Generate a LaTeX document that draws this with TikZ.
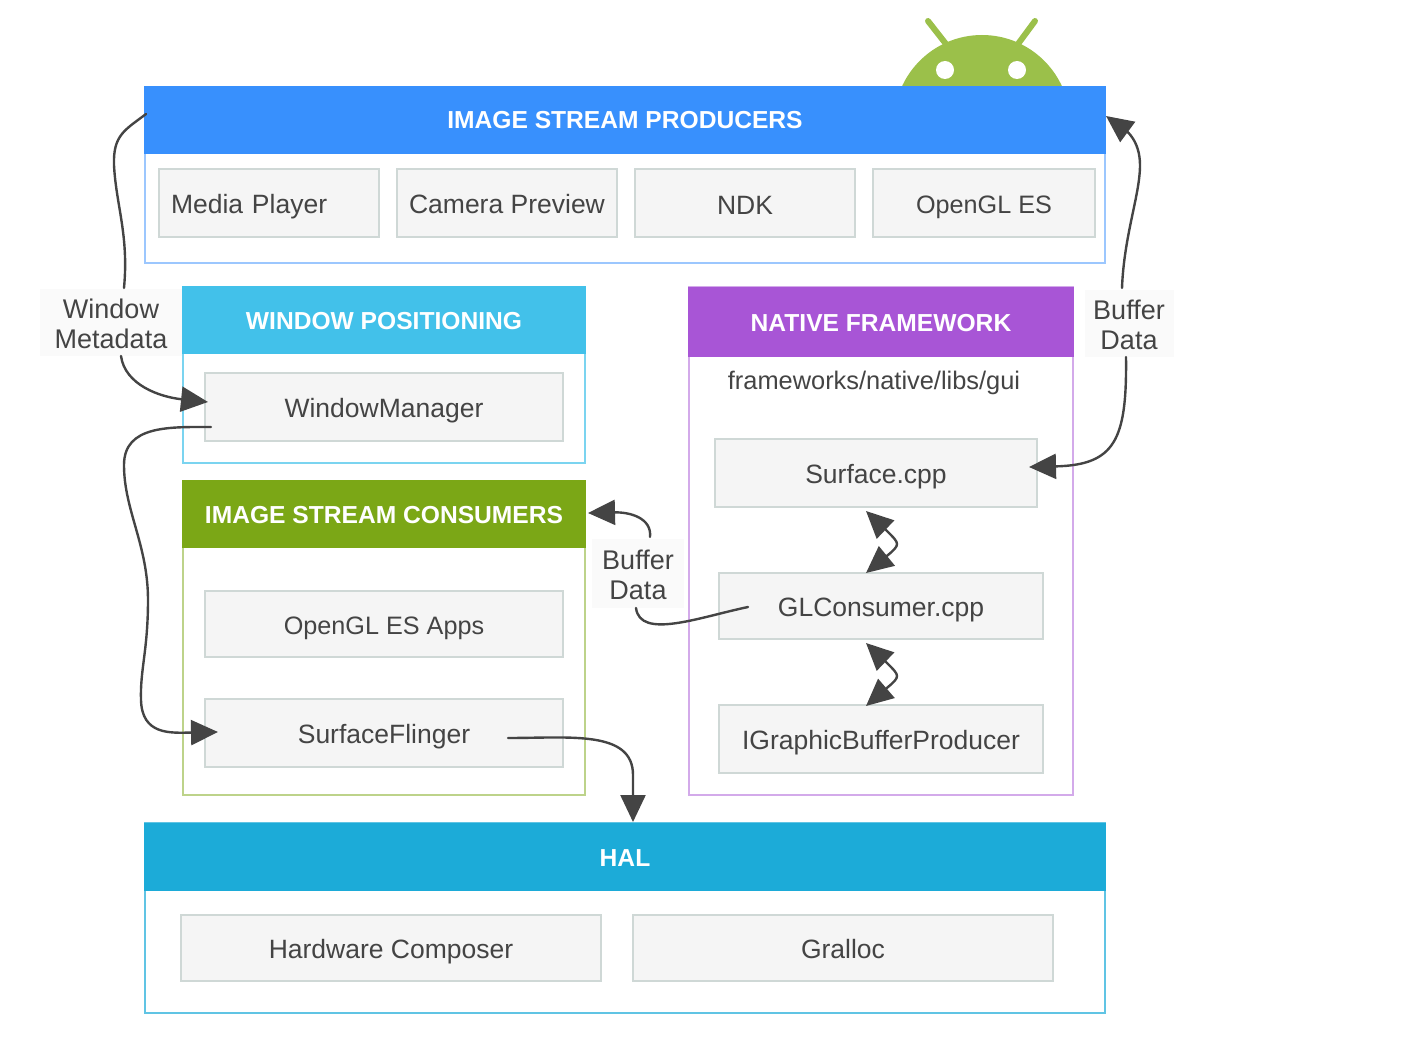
\documentclass[tikz,border=0pt]{standalone}
\usepackage{fontspec}
\setmainfont{Liberation Sans}
\usetikzlibrary{arrows.meta}
\definecolor{ink}{HTML}{444444}
\definecolor{droid}{HTML}{9BC04A}
\definecolor{prodc}{HTML}{3890FD}
\definecolor{winc}{HTML}{42C1EA}
\definecolor{natc}{HTML}{A855D6}
\definecolor{consc}{HTML}{7BA716}
\definecolor{halc}{HTML}{1CABD8}
\definecolor{boxline}{HTML}{CFD8D6}
\definecolor{boxfill}{HTML}{F5F5F5}
\definecolor{tagfill}{HTML}{FAFAFA}
\tikzset{
  panel/.style={draw=#1, line width=1.5pt, inner sep=0pt, outer sep=0pt, fill=white},
  header/.style={fill=#1, draw=#1, line width=1.5pt, inner sep=0pt, outer sep=0pt, text=white,
    text height=18pt, text depth=0pt, font=\fontsize{24.6}{30}\selectfont\bfseries},
  box/.style={draw=boxline, fill=boxfill, line width=1.5pt, inner sep=0pt, outer sep=0pt,
    text=ink, minimum height=68pt, text height=20pt, text depth=0pt,
    font=\fontsize{26.5}{30}\selectfont},
  snug/.style={font=\fontsize{25.2}{30}\selectfont},
  tag/.style={fill=tagfill, inner sep=0pt, outer sep=0pt, text=ink, align=center,
    text height=53pt, text depth=0pt, font=\fontsize{27}{30}\selectfont},
  flow/.style={draw=ink, line width=2.4pt, line cap=round},
  tip/.style={-{Triangle[length=27pt,width=25pt]}},
  both/.style={{Triangle[length=27pt,width=25pt]}-{Triangle[length=27pt,width=25pt]}}
}
\begin{document}
\begin{tikzpicture}[x=1pt,y=-1pt]
\useasboundingbox (0,0) rectangle (1416,1054);
% android head
\begin{scope}
  \clip (880,0) rectangle (1090,87);
  \fill[droid] (982,123) circle (88pt);
\end{scope}
\draw[droid, line width=6pt, line cap=round] (946,44) -- (928,21) (1018,44) -- (1035,21);
\fill[white] (945,70) circle (9pt) (1017,70) circle (9pt);
% panels
\node[panel=prodc!50, minimum width=960pt, minimum height=176pt] (prod) at (625,175) {};
\node[panel=winc!70, minimum width=402pt, minimum height=176pt] (win) at (384,375) {};
\node[panel=natc!50, minimum width=384pt, minimum height=508pt] (nat) at (881,541) {};
\node[panel=consc!50, minimum width=402pt, minimum height=314pt] (cons) at (384,638) {};
\node[panel=halc!70, minimum width=960pt, minimum height=190pt] (hal) at (625,918) {};
% headers
\node[header=prodc, minimum width=960pt, minimum height=66pt] (prodh) at (625,120) {IMAGE STREAM PRODUCERS};
\node[header=winc, minimum width=402pt, minimum height=66pt] (winh) at (384,320) {WINDOW POSITIONING};
\node[header=natc, minimum width=384pt, minimum height=69pt] (nath) at (881,322) {NATIVE FRAMEWORK};
\node[header=consc, minimum width=402pt, minimum height=66pt] (consh) at (384,514) {IMAGE STREAM CONSUMERS};
\node[header=halc, minimum width=960pt, minimum height=66pt] (halh) at (625,857) {HAL};
% boxes
\node[box, minimum width=220pt, text width=196pt] (media) at (269,203) {Media Player};
\node[box, minimum width=220pt] (camera) at (507,203) {Camera Preview};
\node[box, minimum width=220pt, text height=22pt] (ndk) at (745,203) {NDK};
\node[box, snug, minimum width=222pt] (opengl) at (984,203) {OpenGL ES};
\node[box, minimum width=358pt] (wm) at (384,407) {WindowManager};
\node[box, snug, minimum width=358pt, minimum height=66pt] (apps) at (384,624) {OpenGL ES Apps};
\node[box, minimum width=358pt] (sf) at (384,733) {SurfaceFlinger};
\node[text=ink, inner sep=0pt, font=\fontsize{25.4}{28}\selectfont] (path) at (874,383) {frameworks/native/libs/gui};
\node[box, minimum width=322pt] (surface) at (876,473) {Surface.cpp};
\node[box, minimum width=324pt, minimum height=66pt] (gl) at (881,606) {GLConsumer.cpp};
\node[box, minimum width=324pt] (igbp) at (881,739) {IGraphicBufferProducer};
\node[box, minimum width=420pt, minimum height=66pt] (hwc) at (391,948) {Hardware Composer};
\node[box, minimum width=420pt, minimum height=66pt] (gralloc) at (843,948) {Gralloc};
% labels on the connectors
\node[tag, minimum width=142pt, minimum height=67pt] (meta) at (111,322) {Window\\Metadata};
\node[tag, minimum width=89pt, minimum height=67pt] (bufr) at (1129,323) {Buffer\\Data};
\node[tag, minimum width=92pt, minimum height=69pt] (bufm) at (638,573) {Buffer\\Data};
% free ends
\coordinate (prodl) at (146,114);
\coordinate (prodr) at (1106,116);
\coordinate (metat) at (124,288);
\coordinate (metab) at (121,356);
\coordinate (wmin) at (208,402);
\coordinate (wmout) at (211,427);
\coordinate (sfin) at (218,732);
\coordinate (sfout) at (508,738);
\coordinate (halin) at (633,822);
\coordinate (bufrt) at (1122,288);
\coordinate (bufrb) at (1126,357);
\coordinate (surfin) at (1029,467);
\coordinate (bufmt) at (650,537);
\coordinate (bufmb) at (636,608);
\coordinate (consin) at (588,513);
\coordinate (glout) at (748,607);
\coordinate (surfb) at (866,511);
\coordinate (glt) at (866,573);
\coordinate (glb) at (866,643);
\coordinate (igbpt) at (866,706);
% connectors
\draw[flow] (prodl) .. controls (125,130) and (113,135) .. (114,165)
  .. controls (116,205) and (129,235) .. (metat);
\draw[flow, tip] (metab) .. controls (125,385) and (160,397) .. (wmin);
\draw[flow, tip] (wmout) .. controls (170,427) and (124,425) .. (124,465)
  .. controls (124,510) and (148,545) .. (148,600)
  .. controls (148,650) and (140,670) .. (141,700)
  .. controls (142,735) and (170,733) .. (sfin);
\draw[flow, tip] (sfout) .. controls (570,738) and (633,730) .. (633,775) -- (halin);
\draw[flow, tip] (bufrb) .. controls (1127,440) and (1115,465) .. (surfin);
\draw[flow, tip] (bufrt) .. controls (1124,235) and (1140,195) .. (1140,165)
  .. controls (1140,140) and (1125,130) .. (prodr);
\draw[flow, tip] (bufmt) .. controls (652,518) and (630,512) .. (consin);
\draw[flow] (glout) .. controls (700,617) and (640,640) .. (bufmb);
\draw[flow, both] (surfb) -- (887,531) .. controls (894,538) and (897,541) .. (897,544)
  .. controls (897,547) and (894,550) .. (888,555) -- (glt);
\draw[flow, both] (glb) -- (887,663) .. controls (894,670) and (897,673) .. (897,676)
  .. controls (897,679) and (894,682) .. (888,687) -- (igbpt);
\end{tikzpicture}
\end{document}
